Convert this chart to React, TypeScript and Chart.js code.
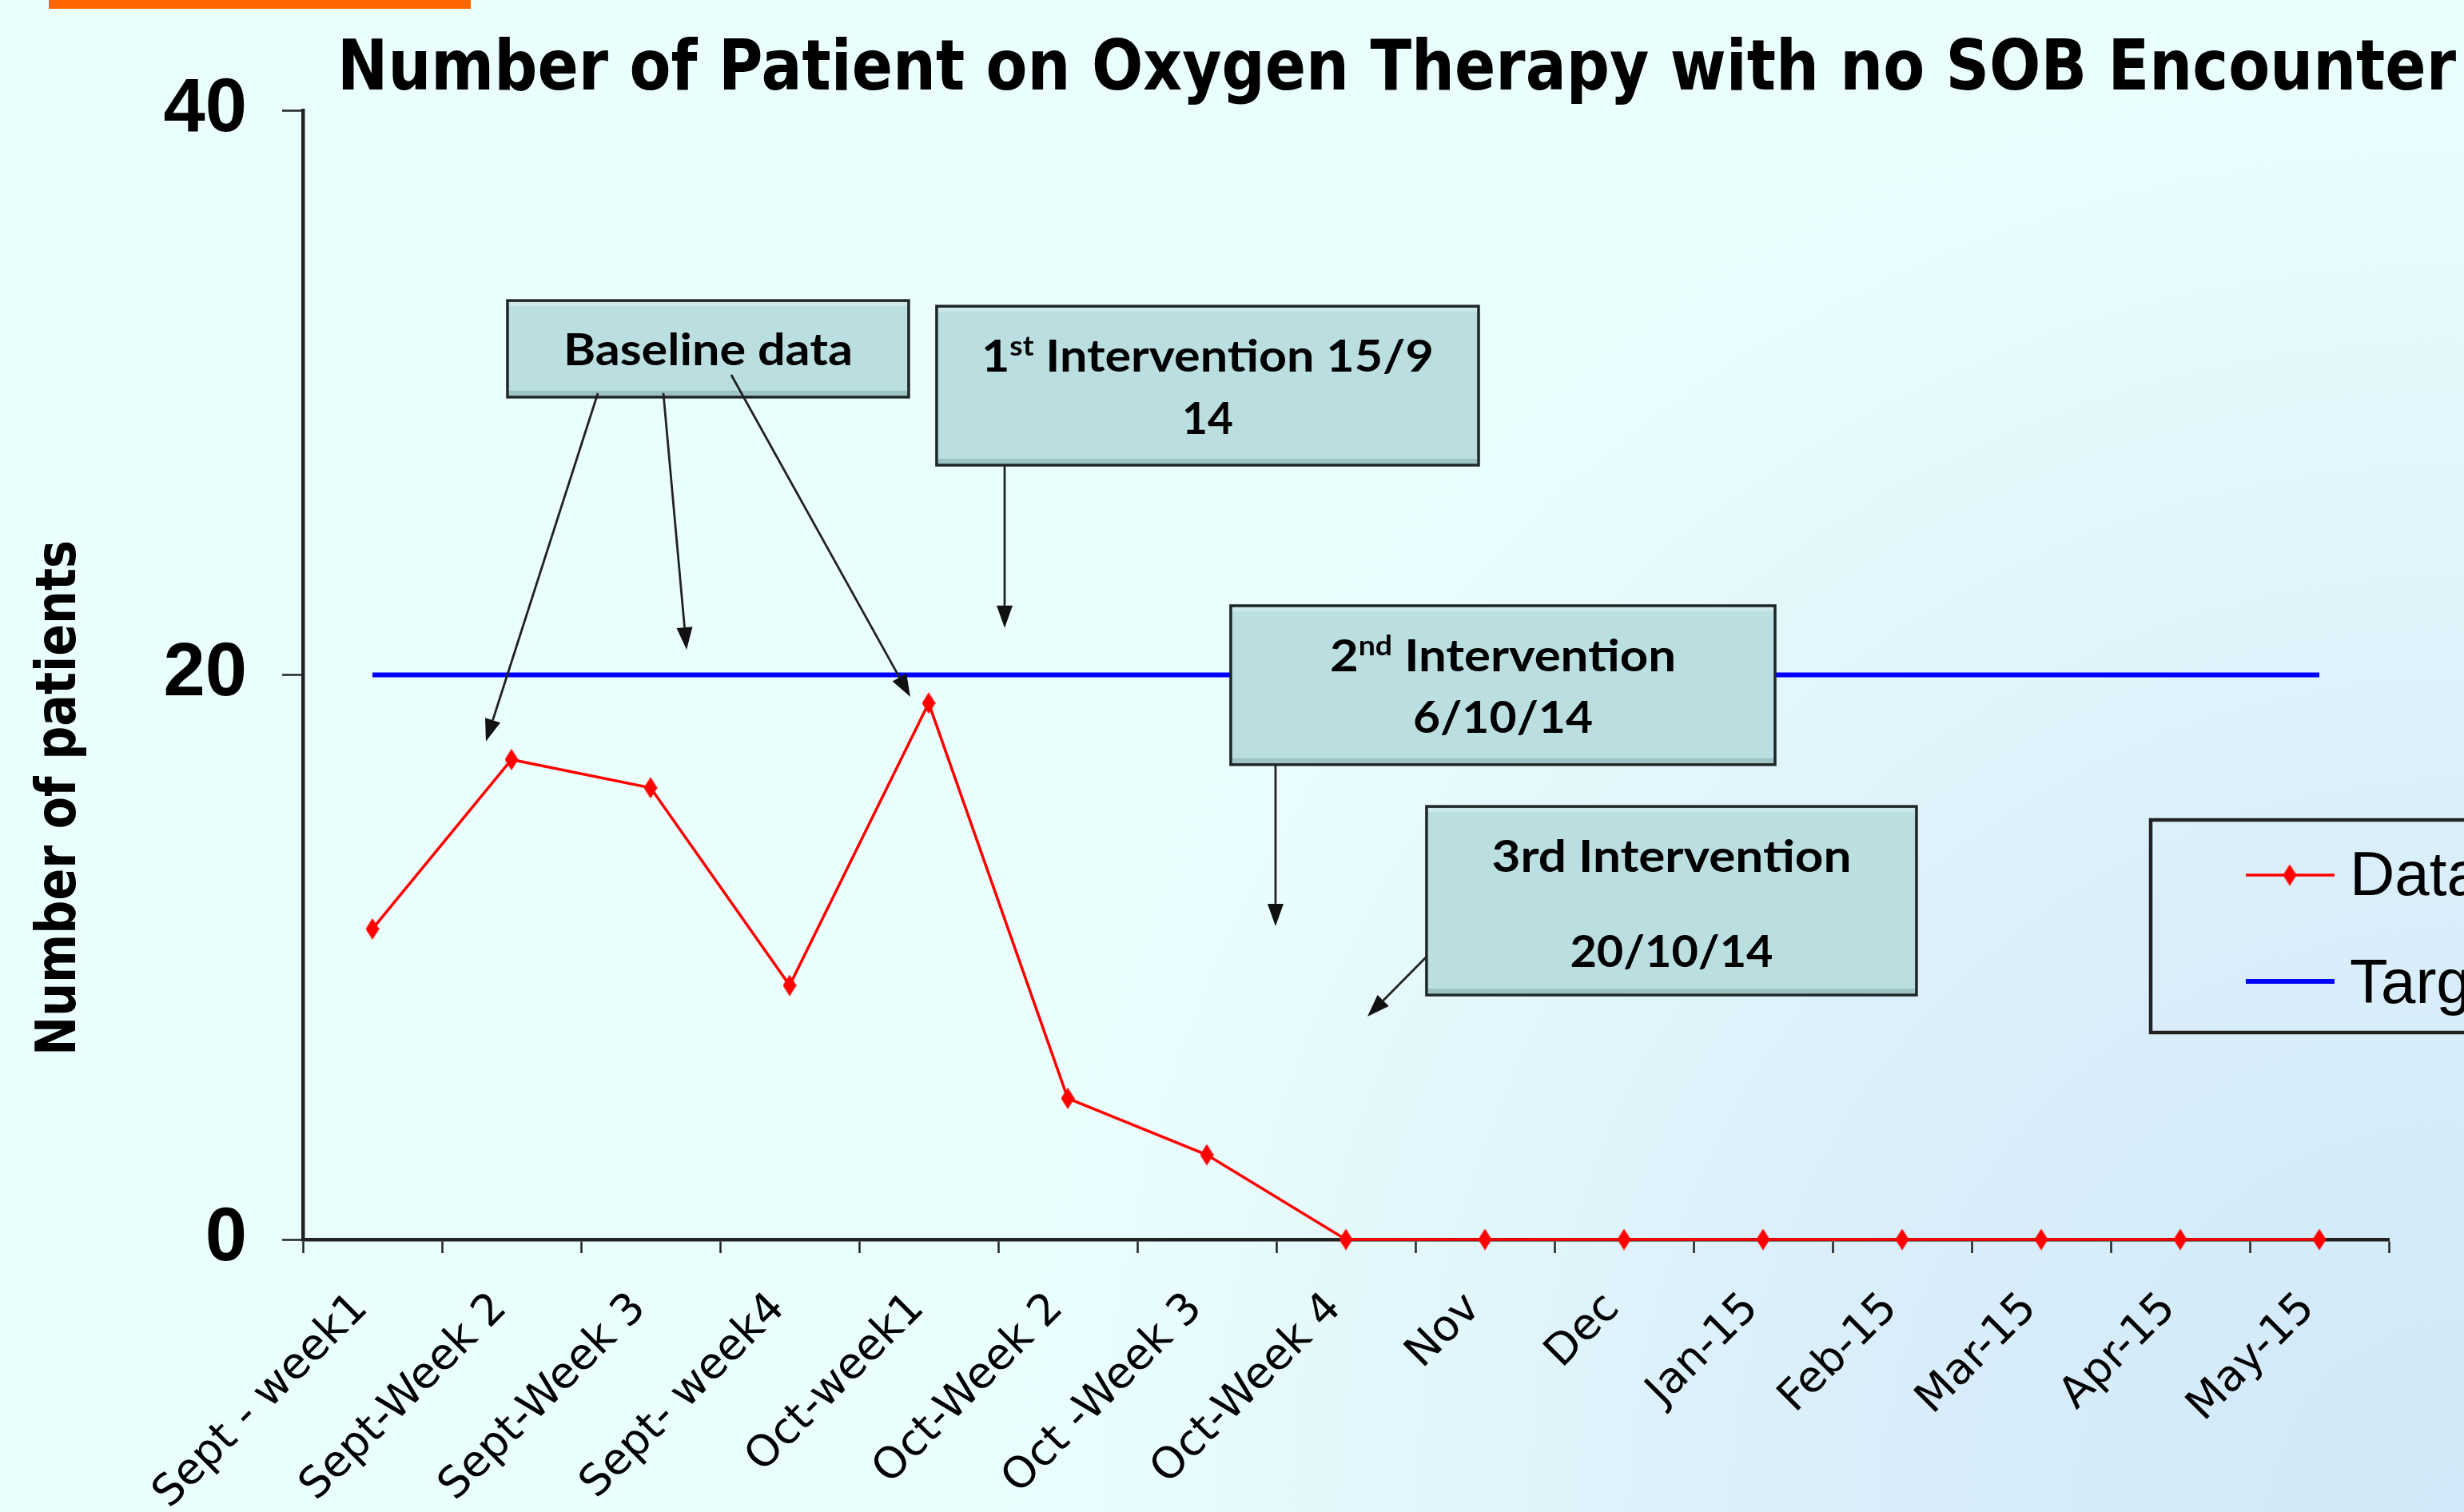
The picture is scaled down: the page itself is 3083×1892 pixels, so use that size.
import React, { useEffect, useRef } from 'react';
import { Chart, registerables } from 'chart.js';

Chart.register(...registerables);

// ---------------- data ----------------
const categories = [
  'Sept - week1', 'Sept-Week 2', 'Sept-Week 3', 'Sept- week4', 'Oct-week1',
  'Oct-Week 2', 'Oct -Week 3', 'Oct-Week 4', 'Nov', 'Dec', 'Jan-15',
  'Feb-15', 'Mar-15', 'Apr-15', 'May-15',
];
const dataValues = [11, 17, 16, 9, 19, 5, 3, 0, 0, 0, 0, 0, 0, 0, 0];
const targetValues = [20, 20, 20, 20, 20, 20, 20, 20, 20, 20, 20, 20, 20, 20, 20];
const yTickValues = [0, 20, 40];
const seriesLabels = ['Data', 'Target'];
const chartTitle = 'Number of Patient on Oxygen Therapy with no SOB Encounter';
const yAxisTitle = 'Number of patients';

// annotation callouts, positioned in data units (category index, value)
type Seg = { t: string; sup?: boolean };
const annotationBoxes: { x0: number; x1: number; yTop: number; yBottom: number; lines: { y: number; width: number; segs: Seg[] }[] }[] = [
  { x0: 0.971, x1: 3.856, yTop: 33.26, yBottom: 29.84,
    lines: [{ y: 30.97, width: 362, segs: [{ t: 'Baseline data' }] }] },
  { x0: 4.057, x1: 7.954, yTop: 33.06, yBottom: 27.43,
    lines: [
      { y: 30.74, width: 566, segs: [{ t: '1' }, { t: 'st', sup: true }, { t: ' Intervention 15/9' }] },
      { y: 28.53, width: 64, segs: [{ t: '14' }] },
    ] },
  { x0: 6.172, x1: 10.086, yTop: 22.45, yBottom: 16.82,
    lines: [
      { y: 20.13, width: 433, segs: [{ t: '2' }, { t: 'nd', sup: true }, { t: ' Intervention' }] },
      { y: 17.95, width: 225, segs: [{ t: '6/10/14' }] },
    ] },
  { x0: 7.58, x1: 11.103, yTop: 15.34, yBottom: 8.66,
    lines: [
      { y: 13.02, width: 450, segs: [{ t: '3rd Intervention' }] },
      { y: 9.65, width: 254, segs: [{ t: '20/10/14' }] },
    ] },
];
const annotationArrows = [
  { x0: 1.621, y0: 29.98, x1: 0.816, y1: 17.64 },
  { x0: 2.092, y0: 29.98, x1: 2.259, y1: 20.89 },
  { x0: 2.58, y0: 30.63, x1: 3.868, y1: 19.22 },
  { x0: 4.546, y0: 27.43, x1: 4.546, y1: 21.66 },
  { x0: 6.494, y0: 16.82, x1: 6.494, y1: 11.1 },
  { x0: 7.575, y0: 9.99, x1: 7.155, y1: 7.9 },
];

const W = 3083;
const H = 1892;

function makeDiamond(w: number, h: number, color: string) {
  const c = document.createElement('canvas');
  c.width = w;
  c.height = h;
  const g = c.getContext('2d')!;
  g.fillStyle = color;
  g.beginPath();
  g.moveTo(w / 2, 0);
  g.lineTo(w, h / 2);
  g.lineTo(w / 2, h);
  g.lineTo(0, h / 2);
  g.closePath();
  g.fill();
  return c;
}

function drawSegs(ctx: CanvasRenderingContext2D, segs: Seg[], cx: number, baseY: number, size: number, targetW: number, family: string) {
  const fontFor = (s: Seg) => `bold ${s.sup ? Math.round(size * 0.6) : size}px ${family}`;
  const widths = segs.map((s) => {
    ctx.font = fontFor(s);
    return ctx.measureText(s.t).width;
  });
  const total = widths.reduce((a, b) => a + b, 0);
  const sx = targetW / total;
  ctx.save();
  ctx.translate(cx - targetW / 2, baseY);
  ctx.scale(sx, 1);
  ctx.textAlign = 'left';
  ctx.textBaseline = 'alphabetic';
  ctx.fillStyle = '#000';
  let x = 0;
  segs.forEach((s, i) => {
    ctx.font = fontFor(s);
    ctx.fillText(s.t, x, s.sup ? -size * 0.36 : 0);
    x += widths[i];
  });
  ctx.restore();
}

function drawArrow(ctx: CanvasRenderingContext2D, x0: number, y0: number, x1: number, y1: number) {
  const ang = Math.atan2(y1 - y0, x1 - x0);
  const len = 28;
  const hw = 10;
  const bx = x1 - Math.cos(ang) * len;
  const by = y1 - Math.sin(ang) * len;
  ctx.save();
  ctx.strokeStyle = '#222';
  ctx.fillStyle = '#111';
  ctx.lineWidth = 2.8;
  ctx.beginPath();
  ctx.moveTo(x0, y0);
  ctx.lineTo(bx, by);
  ctx.stroke();
  ctx.beginPath();
  ctx.moveTo(x1, y1);
  ctx.lineTo(bx - Math.sin(ang) * hw, by + Math.cos(ang) * hw);
  ctx.lineTo(bx + Math.sin(ang) * hw, by - Math.cos(ang) * hw);
  ctx.closePath();
  ctx.fill();
  ctx.restore();
}

const backgroundPlugin = {
  id: 'bgPlugin',
  beforeDraw(chart: any) {
    const ctx = chart.ctx as CanvasRenderingContext2D;
    ctx.save();
    ctx.fillStyle = '#EAFEFE';
    ctx.fillRect(0, 0, W, H);
    const g = ctx.createRadialGradient(W, H, 0, W, H, 1900);
    g.addColorStop(0, '#D2E8F8');
    g.addColorStop(0.45, '#DAEFFA');
    g.addColorStop(0.75, '#E4F8FC');
    g.addColorStop(1, 'rgba(234,254,254,0)');
    ctx.fillStyle = g;
    ctx.fillRect(0, 0, W, H);
    // orange accent bar at the top-left
    ctx.fillStyle = '#FF6600';
    ctx.fillRect(61, 0, 528, 11);
    ctx.restore();
  },
};

const overlayPlugin = {
  id: 'overlayPlugin',
  afterDraw(chart: any) {
    const ctx = chart.ctx as CanvasRenderingContext2D;
    const xs = chart.scales.x;
    const ys = chart.scales.y;

    // title
    ctx.save();
    ctx.font = 'bold 88px "DejaVu Sans"';
    const tw = ctx.measureText(chartTitle).width;
    ctx.translate(422, 112);
    ctx.scale(2651 / tw, 1);
    ctx.fillStyle = '#000';
    ctx.textBaseline = 'alphabetic';
    ctx.fillText(chartTitle, 0, 0);
    ctx.restore();

    // y-axis title
    ctx.save();
    ctx.font = 'bold 70px "DejaVu Sans"';
    const yw = ctx.measureText(yAxisTitle).width;
    ctx.translate(94, 1321);
    ctx.rotate(-Math.PI / 2);
    ctx.scale(645 / yw, 1);
    ctx.fillStyle = '#000';
    ctx.textBaseline = 'alphabetic';
    ctx.fillText(yAxisTitle, 0, 0);
    ctx.restore();

    // annotation boxes
    annotationBoxes.forEach((b) => {
      const l = xs.getPixelForValue(b.x0);
      const r = xs.getPixelForValue(b.x1);
      const t = ys.getPixelForValue(b.yTop);
      const bt = ys.getPixelForValue(b.yBottom);
      ctx.save();
      ctx.fillStyle = '#BBDFE1';
      ctx.fillRect(l, t, r - l, bt - t);
      ctx.fillStyle = '#CDE8EA';
      ctx.fillRect(l + 2, t + 2, r - l - 4, 5);
      ctx.fillStyle = '#9DC3C5';
      ctx.fillRect(l + 2, bt - 8, r - l - 4, 6);
      ctx.strokeStyle = '#1E2626';
      ctx.lineWidth = 3.5;
      ctx.strokeRect(l, t, r - l, bt - t);
      ctx.restore();
      const cx = (l + r) / 2;
      b.lines.forEach((ln) => {
        drawSegs(ctx, ln.segs, cx, ys.getPixelForValue(ln.y), 56, ln.width, 'Lato');
      });
    });

    // arrows
    annotationArrows.forEach((a) => {
      drawArrow(ctx, xs.getPixelForValue(a.x0), ys.getPixelForValue(a.y0), xs.getPixelForValue(a.x1), ys.getPixelForValue(a.y1));
    });

    // legend (box runs off the right edge, as in the original)
    const ds = chart.data.datasets;
    ctx.save();
    ctx.strokeStyle = '#222';
    ctx.lineWidth = 4.5;
    ctx.strokeRect(2691, 1026, 600, 266);
    const rows = [1095, 1228];
    const baselines = [1120, 1255];
    ds.forEach((d: any, i: number) => {
      ctx.strokeStyle = d.borderColor;
      ctx.lineWidth = d.borderWidth;
      ctx.beginPath();
      ctx.moveTo(2810, rows[i]);
      ctx.lineTo(2921, rows[i]);
      ctx.stroke();
      if (d.pointRadius > 0 && d.pointStyle) {
        ctx.drawImage(d.pointStyle, 2865 - d.pointStyle.width / 2, rows[i] - d.pointStyle.height / 2);
      }
      ctx.fillStyle = '#000';
      ctx.font = '78px "Liberation Sans"';
      ctx.textBaseline = 'alphabetic';
      ctx.fillText(d.label, 2940, baselines[i]);
    });
    ctx.restore();
  },
};

export default function App() {
  const ref = useRef<HTMLCanvasElement | null>(null);

  useEffect(() => {
    document.body.style.margin = '0';
    const canvas = ref.current!;
    const diamond = makeDiamond(17, 27, '#FF0000');
    const chart = new Chart(canvas, {
      type: 'line',
      data: {
        labels: categories,
        datasets: [
          {
            label: seriesLabels[0],
            data: dataValues,
            borderColor: '#FF0000',
            backgroundColor: '#FF0000',
            borderWidth: 3.5,
            pointStyle: diamond as any,
            pointRadius: 9,
            pointHoverRadius: 9,
            tension: 0,
            clip: false as any,
            order: 0,
          },
          {
            label: seriesLabels[1],
            data: targetValues,
            borderColor: '#0000FF',
            backgroundColor: '#0000FF',
            borderWidth: 6,
            pointRadius: 0,
            pointHoverRadius: 0,
            tension: 0,
            order: 1,
          },
        ],
      },
      options: {
        responsive: false,
        animation: false,
        devicePixelRatio: 1,
        events: [],
        layout: { padding: { left: 0, top: 138, right: 94, bottom: 0 } },
        plugins: {
          legend: { display: false },
          title: { display: false },
          tooltip: { enabled: false },
        },
        scales: {
          x: {
            type: 'category',
            offset: true,
            grid: {
              offset: true,
              drawOnChartArea: false,
              drawTicks: true,
              tickLength: 17,
              tickWidth: 2.5,
              tickColor: '#222',
            },
            border: { display: true, color: '#222', width: 4.5 },
            ticks: {
              autoSkip: false,
              maxRotation: 45,
              minRotation: 45,
              padding: 38,
              labelOffset: -14,
              color: '#000',
              font: { family: '"DejaVu Sans"', size: 54 },
            },
            afterFit: (s: any) => { s.height = 341; },
          },
          y: {
            min: 0,
            max: 40,
            afterBuildTicks: (s: any) => { s.ticks = yTickValues.map((v) => ({ value: v })); },
            grid: {
              drawOnChartArea: false,
              drawTicks: true,
              tickLength: 26,
              tickWidth: 2.5,
              tickColor: '#222',
            },
            border: { display: true, color: '#222', width: 4.5 },
            ticks: {
              padding: 44,
              color: '#000',
              font: { family: '"Liberation Sans"', size: 94, weight: 'bold' },
            },
            afterFit: (s: any) => { s.width = 379; },
          },
        },
      },
      plugins: [backgroundPlugin, overlayPlugin],
    });
    return () => chart.destroy();
  }, []);

  return (
    <canvas
      ref={ref}
      width={W}
      height={H}
      style={{ position: 'absolute', left: 0, top: 0, width: W, height: H, display: 'block' }}
    />
  );
}
